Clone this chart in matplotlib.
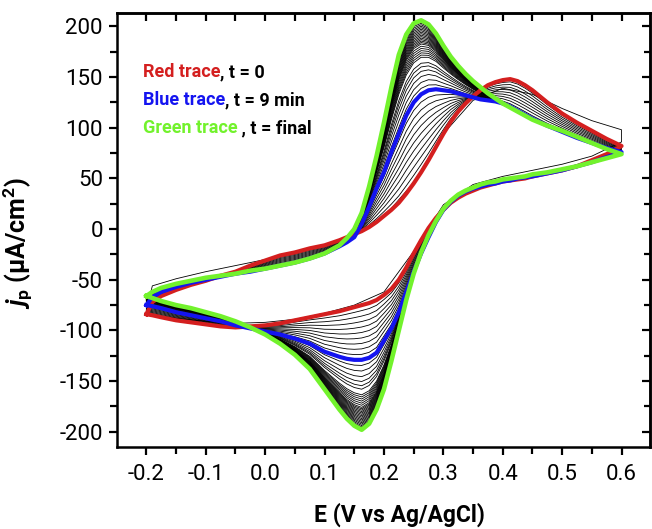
import numpy as np
import matplotlib
matplotlib.use("Agg")
import matplotlib.pyplot as plt

plt.rcParams['font.family'] = ['Roboto', 'DejaVu Sans']
plt.rcParams['mathtext.fontset'] = 'custom'
plt.rcParams['mathtext.rm'] = 'Roboto:bold'
plt.rcParams['mathtext.it'] = 'Roboto:bold:italic'
plt.rcParams['mathtext.bf'] = 'Roboto:bold'
plt.rcParams['axes.unicode_minus'] = False

# potential grid (V vs Ag/AgCl), same for both scan directions
E_grid = [-0.2, -0.19, -0.175, -0.15, -0.125, -0.1, -0.075, -0.05, -0.025, 0.0,
          0.025, 0.05, 0.075, 0.1, 0.125, 0.1375, 0.15, 0.1625, 0.175, 0.1875,
          0.2, 0.2125, 0.225, 0.2375, 0.25, 0.2625, 0.275, 0.2875, 0.3, 0.3125,
          0.325, 0.3375, 0.35, 0.3625, 0.375, 0.3875, 0.4, 0.4125, 0.425, 0.4375,
          0.45, 0.475, 0.5, 0.525, 0.55, 0.575, 0.6]

# anodic (forward) scans, j in uA/cm2
red_fwd = [-84, -72, -66, -60, -55, -51, -46, -42, -36, -31,
           -26, -23, -19, -16, -11, -8, -5, -2, 2, 7,
           13, 19, 26, 35, 45, 56, 68, 81, 94, 106,
           116, 124, 131, 137, 142, 145, 147, 148, 146, 142,
           137, 125, 114, 105, 97, 89, 82]
blue_fwd = [-75, -67, -62, -57, -53, -50, -47, -44, -42, -39,
            -36, -33, -29, -24, -17, -13, -8, 5, 22, 40,
            56, 76, 94, 112, 125, 133, 137, 138, 137, 136,
            134, 132, 130, 128, 127, 126, 124, 121, 117, 113,
            109, 102, 96, 90, 85, 80, 76]
green_fwd = [-66, -62, -58, -54, -51, -48, -46, -44, -41, -39,
             -36, -33, -29, -24, -16, -9, 0, 16, 42, 72,
             105, 140, 172, 192, 203, 206, 202, 193, 181, 170,
             161, 153, 146, 140, 134, 129, 124, 120, 116, 112,
             108, 102, 97, 91, 85, 79, 74]

# cathodic (reverse) scans on the same grid
red_rev = [-84, -85, -87, -90, -92, -94, -96, -97, -96, -95,
           -93, -90, -87, -84, -81, -79, -77, -75, -73, -70,
           -65, -59, -50, -38, -24, -11, 1, 11, 19, 26,
           31, 35, 38, 41, 43, 45, 47, 48, 49, 50,
           52, 55, 58, 62, 68, 74, 82]
blue_rev = [-75, -76, -78, -82, -85, -88, -91, -95, -98, -101,
            -104, -108, -113, -121, -126, -128, -129, -129, -127, -122,
            -110, -98, -82, -62, -42, -24, -8, 7, 19, 27,
            33, 37, 40, 42, 44, 45, 47, 48, 50, 51,
            52, 55, 58, 62, 66, 71, 76]
green_rev = [-66, -68, -71, -75, -78, -82, -86, -91, -97, -104,
             -113, -124, -138, -158, -178, -187, -194, -198, -192, -178,
             -158, -130, -100, -70, -44, -23, -6, 8, 20, 28,
             34, 38, 41, 44, 46, 47, 49, 50, 51, 52,
             54, 56, 59, 62, 66, 70, 74]

# first scans (thin black, before red)
first_E = [-0.2, -0.19, -0.15, -0.1, -0.05, 0.0, 0.05, 0.1, 0.15, 0.2,
           0.25, 0.3, 0.35, 0.4, 0.45, 0.5, 0.55, 0.6]
first_fwd = [-80, -56, -49, -42, -36, -30, -23, -16, -6, 12,
             46, 94, 127, 139, 133, 119, 107, 98]
first_rev = [-80, -85, -88, -91, -93, -92, -89, -83, -75, -62,
             -22, 24, 44, 52, 58, 64, 72, 86]

# intermediate scans: position between red->blue and blue->green
red_blue_steps = [0.1, 0.2, 0.3, 0.4, 0.5, 0.6, 0.7, 0.8, 0.9]
blue_green_steps = [0.08, 0.16, 0.24, 0.31, 0.37, 0.42, 0.5, 0.53, 0.56, 0.59,
                    0.62, 0.65, 0.68, 0.7, 0.72, 0.74, 0.76, 0.78, 0.8, 0.82,
                    0.84, 0.86, 0.88, 0.9, 0.92, 0.94, 0.96, 0.98]

E = np.array(E_grid)
E_loop = np.concatenate([E, E[::-1]])


def loop(fwd, rev):
    return np.concatenate([np.array(fwd, float), np.array(rev, float)[::-1]])


red = loop(red_fwd, red_rev)
blue = loop(blue_fwd, blue_rev)
green = loop(green_fwd, green_rev)

fig = plt.figure(figsize=(6.52, 5.29), dpi=100)
ax = fig.add_axes([0.179, 0.155, 0.818, 0.82])

fE = np.array(first_E)
ax.plot(np.concatenate([fE, fE[::-1]]), loop(first_fwd, first_rev), color='black', lw=0.6)
for w in red_blue_steps:
    ax.plot(E_loop, red + w * (blue - red), color='black', lw=0.6)
for w in blue_green_steps:
    ax.plot(E_loop, blue + w * (green - blue), color='black', lw=0.6)

ax.plot(E_loop, red, color='#d41f1f', lw=3, solid_joinstyle='round')
ax.plot(E_loop, blue, color='#1414f0', lw=3, solid_joinstyle='round')
ax.plot(E_loop, green, color='#72f22c', lw=3.3, solid_joinstyle='round')

ax.set_xlim(-0.25, 0.648)
ax.set_ylim(-215, 213)
ax.set_xticks([-0.2, -0.1, 0.0, 0.1, 0.2, 0.3, 0.4, 0.5, 0.6])
ax.set_xticklabels(['-0.2', '-0.1', '0.0', '0.1', '0.2', '0.3', '0.4', '0.5', '0.6'])
ax.set_yticks([-200, -150, -100, -50, 0, 50, 100, 150, 200])
ax.set_xticks(np.arange(-0.15, 0.65, 0.1), minor=True)
ax.set_yticks(np.arange(-175, 200, 50), minor=True)
for s in ax.spines.values():
    s.set_linewidth(1.8)
ax.tick_params(which='both', direction='out', width=1.6, labelsize=16)
ax.tick_params(axis='y', which='both', pad=4)
ax.tick_params(axis='x', which='both', pad=6)
ax.tick_params(which='major', length=6)
ax.tick_params(which='minor', length=5)

# mirrored ticks on top and right point inwards
top = ax.secondary_xaxis('top')
top.set_xticks(np.arange(-0.2, 0.65, 0.05))
top.tick_params(direction='in', length=6, width=1.6, labeltop=False)
top.spines['top'].set_linewidth(1.8)
right = ax.secondary_yaxis('right')
right.set_yticks([-200, -150, -100, -50, 0, 50, 100, 150, 200])
right.set_yticks(np.arange(-175, 200, 50), minor=True)
right.tick_params(which='major', direction='in', length=6, width=1.6, labelright=False)
right.tick_params(which='minor', direction='in', length=4, width=1.6, labelright=False)
right.spines['right'].set_linewidth(1.8)

ax.set_xlabel('E (V vs Ag/AgCl)', fontsize=16.5, fontweight='bold')
ax.xaxis.set_label_coords(0.53, -0.128)
ax.set_ylabel(r'$j_{\mathrm{p}}$ (μA/cm$^{\mathrm{2}}$)', fontsize=18,
              fontweight='bold')
ax.yaxis.set_label_coords(-0.155, 0.47)

labels = [('Red trace', ', t = 0', '#d41f1f', 0.864),
          ('Blue trace', ', t = 9 min', '#1414f0', 0.800),
          ('Green trace', ' , t = final', '#72f22c', 0.735)]
for name, rest, col, yy in labels:
    t1 = ax.text(0.049, yy, name, transform=ax.transAxes, color=col,
                 fontsize=13, fontweight='bold', va='center')
    ax.annotate(rest, xy=(1, 0), xycoords=t1, va='bottom', ha='left',
                fontsize=13, fontweight='bold', color='black')

fig.savefig('out.png', dpi=100)
